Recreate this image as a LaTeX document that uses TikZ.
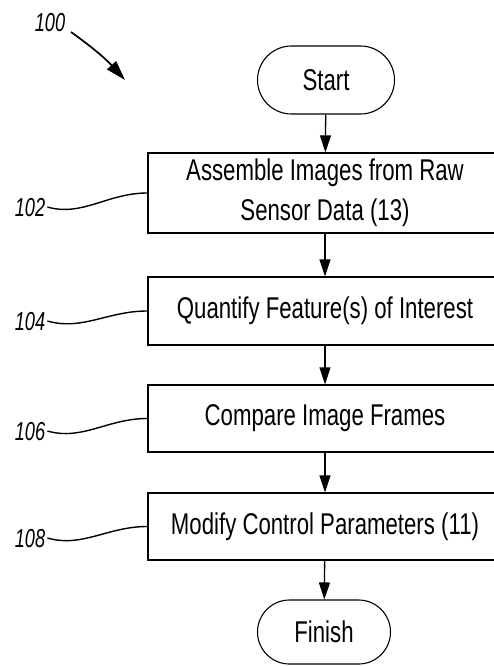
\documentclass[tikz,border=0pt]{standalone}
\usepackage{fontspec}
\setmainfont{Liberation Sans}[FakeStretch=0.74]
\newfontfamily\reffont{Liberation Sans}[FakeStretch=0.7]
\usetikzlibrary{arrows.meta,shapes.misc}
\begin{document}
\begin{tikzpicture}[x=1pt,y=-1pt,
  box/.style={draw,line width=1.3pt,inner sep=0pt,minimum width=354pt,align=center,
    font=\fontsize{30}{40}\selectfont},
  term/.style={draw,line width=1.1pt,rounded rectangle,inner sep=0pt,
    font=\fontsize{30}{34}\selectfont},
  flow/.style={line width=1.3pt,-{Triangle[length=17pt,width=11pt]}},
  lead/.style={line width=1.4pt},
  ref/.style={inner sep=2pt,font=\fontsize{26}{28}\reffont\itshape}]
\clip (0,0) rectangle (494,666);
\node[term,minimum width=137pt,minimum height=68pt] (start) at (326,80) {Start};
\node[box,minimum height=80pt] (b1) at (325,193) {Assemble Images from Raw\\Sensor Data (13)};
\node[box,minimum height=68pt] (b2) at (325,311) {Quantify Feature(s) of Interest};
\node[box,minimum height=67pt] (b3) at (325,418.5) {Compare Image Frames};
\node[box,minimum height=67pt] (b4) at (325,526.5) {Modify Control Parameters (11)};
\node[term,minimum width=133pt,minimum height=64pt] (finish) at (324,632) {Finish};

\draw[flow] (start) -- (b1);
\draw[flow] (b1) -- (b2);
\draw[flow] (b2) -- (b3);
\draw[flow] (b3) -- (b4);
\draw[flow] (b4) -- (finish);

\node[ref] (l100) at (50,23) {100};
\node[ref] (l102) at (30,208) {102};
\node[ref] (l104) at (30,322) {104};
\node[ref] (l106) at (30,432) {106};
\node[ref] (l108) at (30,539) {108};

\coordinate (s100) at (71,32);
\coordinate (p100) at (125,80);
\draw[lead,line width=1.7pt,-{Triangle[length=20pt,width=12pt]}] (s100) to[bend left=6] (p100);

\draw[lead] ([yshift=1pt]l102.east) .. controls +(35,10) and +(-40,0) .. (b1.west);
\draw[lead] ([yshift=1pt]l104.east) .. controls +(35,10) and +(-40,0) .. (b2.west);
\draw[lead] ([yshift=1pt]l106.east) .. controls +(35,10) and +(-40,0) .. (b3.west);
\draw[lead] ([yshift=1pt]l108.east) .. controls +(35,10) and +(-40,0) .. (b4.west);
\end{tikzpicture}
\end{document}
